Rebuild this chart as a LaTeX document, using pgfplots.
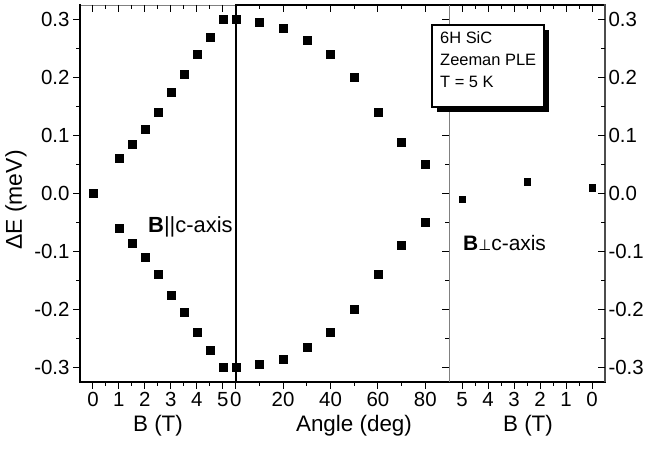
\documentclass[border=0pt]{standalone}
\usepackage{fontspec}
\setmainfont{Liberation Sans}
\newfontfamily\dejavu{DejaVu Sans}
\usepackage{pgfplots}
\pgfplotsset{compat=1.18}
\begin{document}
\begin{tikzpicture}[x=1bp,y=1bp]
\useasboundingbox (0,0) rectangle (647,449);
\pgfplotsset{
  panel/.style={scale only axis, height=377bp, ymin=-0.325, ymax=0.325,
    axis line style={draw=none}, clip=false,
    major tick length=7bp, minor tick length=4bp,
    tick style={black, line width=1bp},
    tick label style={font=\fontsize{20.5}{23}\selectfont},
    ytick=\empty, minor ytick=\empty},
  yt/.style={ytick={-0.3,-0.2,-0.1,0,0.1,0.2,0.3},
    minor ytick={-0.25,-0.15,-0.05,0.05,0.15,0.25},
    yticklabels={-0.3,-0.2,-0.1,0.0,0.1,0.2,0.3}},
  dat/.style={only marks, mark=square*, mark size=4bp, black},
}
% frame lines
\draw[gray, line width=0.9bp] (80,444) -- (235.7,444);
\draw[black, line width=1.4bp] (235.7,444) -- (605,444);
\draw[black, line width=1.8bp] (80,67) -- (80,444.7);
\draw[black, line width=1.8bp] (79.1,67) -- (605.7,67);
\draw[black!70, line width=1.3bp] (605,67) -- (605,444.7);
\draw[black, line width=2.4bp] (235.7,67) -- (235.7,444.7);
\draw[gray, line width=0.9bp] (449,67) -- (449,444);

% ---------- left panel: B || c ----------
\begin{axis}[panel, yt, at={(80bp,67bp)}, anchor=south west, width=155.7bp,
  xmin=-0.5, xmax=5.5, xtick={0,1,2,3,4,5}, minor xtick={0.5,1.5,2.5,3.5,4.5},
  xticklabels={0,1,2,3,4,5}, xtick pos=bottom, ytick pos=left, tick align=outside]
\addplot[dat] coordinates {(0,0) (1,0.06) (1.5,0.085) (2,0.11) (2.5,0.14) (3,0.175) (3.5,0.205) (4,0.24) (4.5,0.27) (5,0.3)};
\addplot[dat] coordinates {(1,-0.06) (1.5,-0.085) (2,-0.11) (2.5,-0.14) (3,-0.175) (3.5,-0.205) (4,-0.24) (4.5,-0.27) (5,-0.3)};
\end{axis}
\begin{axis}[panel, at={(80bp,67bp)}, anchor=south west, width=155.7bp,
  xmin=-0.5, xmax=5.5, xtick={0,1,2,3,4,5}, minor xtick={0.5,1.5,2.5,3.5,4.5},
  xticklabels=\empty, xtick pos=top, tick align=inside]
\end{axis}

% ---------- middle panel: angle ----------
\begin{axis}[panel, at={(235.7bp,67bp)}, anchor=south west, width=213.3bp,
  xmin=0, xmax=90, xtick={0,20,40,60,80}, minor xtick={10,30,50,70},
  xticklabels={0,20,40,60,80}, xtick pos=bottom, tick align=outside]
\addplot[dat] coordinates {(0,0.3) (10,0.295) (20,0.285) (30,0.265) (40,0.24) (50,0.2) (60,0.14) (70,0.089) (80,0.05)};
\addplot[dat] coordinates {(0,-0.3) (10,-0.295) (20,-0.285) (30,-0.265) (40,-0.24) (50,-0.2) (60,-0.14) (70,-0.089) (80,-0.05)};
\end{axis}
\begin{axis}[panel, yt, at={(235.7bp,67bp)}, anchor=south west, width=213.3bp,
  xmin=0, xmax=90, xtick={0,20,40,60,80}, minor xtick={10,30,50,70},
  xticklabels=\empty, yticklabels=\empty, xtick pos=top, ytick pos=right, tick align=inside]
\end{axis}

% ---------- right panel: B perp c ----------
\begin{axis}[panel, at={(449bp,67bp)}, anchor=south west, width=156bp,
  x dir=reverse, xmin=-0.5, xmax=5.5, xtick={0,1,2,3,4,5}, minor xtick={0.5,1.5,2.5,3.5,4.5},
  xticklabels={0,1,2,3,4,5}, xtick pos=bottom, tick align=outside]
\addplot[dat, mark size=3.3bp] coordinates {(5,-0.01) (2.5,0.02) (0,0.01)};
\end{axis}
\begin{axis}[panel, yt, at={(449bp,67bp)}, anchor=south west, width=156bp,
  x dir=reverse, xmin=-0.5, xmax=5.5, xtick={0,1,2,3,4,5}, minor xtick={0.5,1.5,2.5,3.5,4.5},
  xticklabels=\empty, xtick pos=top, ytick pos=right, yticklabel pos=right, tick align=inside]
\end{axis}

% labels
\node[font=\fontsize{22.5}{26}\selectfont] at (158,23) {B (T)};
\node[font=\fontsize{22.5}{26}\selectfont] at (354,23) {Angle (deg)};
\node[font=\fontsize{22.5}{26}\selectfont] at (528,23) {B (T)};
\node[font=\fontsize{23}{26}\selectfont, rotate=90] at (16,249) {ΔE (meV)};

% annotations
\node[anchor=west, inner sep=0, font=\fontsize{22}{26}\selectfont] at (148,222) {\textbf{B}||c-axis};
\node[anchor=west, inner sep=0, font=\fontsize{21}{24}\selectfont] at (463,206) {\textbf{B}{\dejavu\fontsize{15}{18}\selectfont ⊥}c-axis};

% box
\fill[black] (437,337) rectangle (549,419);
\draw[fill=white, line width=1.2bp] (432,342) rectangle (544,424);
\node[anchor=north west, align=left, inner sep=0, font=\fontsize{16.5}{22.5}\selectfont] at (440,418) {6H SiC\\Zeeman PLE\\T = 5 K};
\end{tikzpicture}
\end{document}
